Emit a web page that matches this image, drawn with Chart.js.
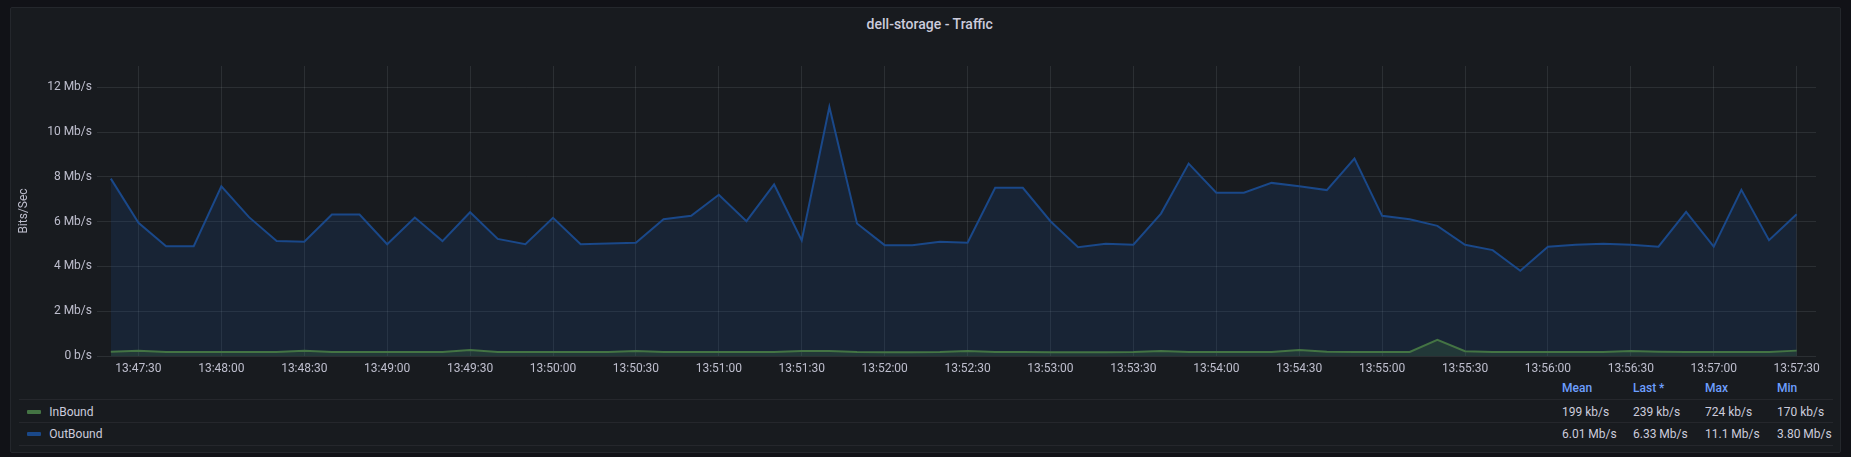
<!DOCTYPE html>
<html>
<head>
<meta charset="utf-8">
<title>dell-storage - Traffic</title>
<script src="https://cdn.jsdelivr.net/npm/chart.js@4.4.1/dist/chart.umd.min.js"></script>
<style>
  html, body { margin: 0; padding: 0; width: 1851px; height: 457px; overflow: hidden; background: #111217; font-family: Roboto, sans-serif; }
  .panel { position: absolute; left: 10px; top: 7px; width: 1829px; height: 444px; background: #181b1f; border: 1px solid #24272c; border-radius: 2px; }
  .title { position: absolute; left: 779.7px; width: 300px; top: 16px; line-height: 16px; text-align: center; font-size: 14px; font-weight: 500; color: #ccccdc; }
  .sep { position: absolute; left: 19px; width: 1814px; height: 1px; background: #25272c; }
  .cell { position: absolute; font-size: 12px; line-height: 16px; color: #ccccdc; white-space: nowrap; }
  .head { color: #6e9fff; font-weight: 500; }
  .swatch { position: absolute; width: 14px; height: 4px; border-radius: 1px; }
  #traffic { position: absolute; left: 0; top: 0; }
</style>
</head>
<body>
<div class="panel"></div>
<div class="title">dell-storage - Traffic</div>
<div id="legend"></div>
<canvas id="traffic" width="1851" height="457"></canvas>
<script>
// Sample times (every 10s)
const times = [
  '13:47:20', '13:47:30', '13:47:40', '13:47:50', '13:48:00', '13:48:10', '13:48:20', '13:48:30', '13:48:40', '13:48:50',
  '13:49:00', '13:49:10', '13:49:20', '13:49:30', '13:49:40', '13:49:50', '13:50:00', '13:50:10', '13:50:20', '13:50:30',
  '13:50:40', '13:50:50', '13:51:00', '13:51:10', '13:51:20', '13:51:30', '13:51:40', '13:51:50', '13:52:00', '13:52:10',
  '13:52:20', '13:52:30', '13:52:40', '13:52:50', '13:53:00', '13:53:10', '13:53:20', '13:53:30', '13:53:40', '13:53:50',
  '13:54:00', '13:54:10', '13:54:20', '13:54:30', '13:54:40', '13:54:50', '13:55:00', '13:55:10', '13:55:20', '13:55:30',
  '13:55:40', '13:55:50', '13:56:00', '13:56:10', '13:56:20', '13:56:30', '13:56:40', '13:56:50', '13:57:00', '13:57:10',
  '13:57:20', '13:57:30'
];

// Mb/s
const inBound = [
  0.19, 0.23, 0.18, 0.18, 0.18, 0.18, 0.18, 0.23, 0.18, 0.18,
  0.18, 0.18, 0.18, 0.27, 0.18, 0.18, 0.18, 0.18, 0.18, 0.22,
  0.18, 0.18, 0.18, 0.18, 0.18, 0.22, 0.22, 0.18, 0.17, 0.17,
  0.18, 0.22, 0.18, 0.18, 0.17, 0.17, 0.17, 0.18, 0.22, 0.18,
  0.18, 0.18, 0.18, 0.27, 0.19, 0.18, 0.18, 0.18, 0.72, 0.21,
  0.18, 0.18, 0.18, 0.18, 0.18, 0.22, 0.19, 0.18, 0.18, 0.18,
  0.18, 0.24
];

const outBound = [
  7.92, 5.95, 4.90, 4.90, 7.58, 6.20, 5.14, 5.10, 6.32, 6.32,
  4.99, 6.18, 5.13, 6.42, 5.23, 4.99, 6.17, 4.99, 5.02, 5.06,
  6.11, 6.26, 7.20, 6.02, 7.66, 5.16, 11.12, 5.92, 4.95, 4.95,
  5.10, 5.06, 7.51, 7.51, 6.02, 4.86, 5.01, 4.97, 6.36, 8.59,
  7.29, 7.29, 7.73, 7.58, 7.41, 8.82, 6.26, 6.11, 5.81, 4.97,
  4.73, 3.81, 4.88, 4.97, 5.01, 4.97, 4.88, 6.44, 4.88, 7.42,
  5.17, 6.33
];

const xTickLabels = [
  '13:47:30', '13:48:00', '13:48:30', '13:49:00', '13:49:30', '13:50:00', '13:50:30',
  '13:51:00', '13:51:30', '13:52:00', '13:52:30', '13:53:00', '13:53:30', '13:54:00',
  '13:54:30', '13:55:00', '13:55:30', '13:56:00', '13:56:30', '13:57:00', '13:57:30'
];
const yTickValues = [0, 2, 4, 6, 8, 10, 12];
const yTickLabels = ['0 b/s', '2 Mb/s', '4 Mb/s', '6 Mb/s', '8 Mb/s', '10 Mb/s', '12 Mb/s'];

const legendNames = ['InBound', 'OutBound'];
const legendColumns = ['Mean', 'Last *', 'Max', 'Min'];
const inBoundStats = ['199 kb/s', '239 kb/s', '724 kb/s', '170 kb/s'];
const outBoundStats = ['6.01 Mb/s', '6.33 Mb/s', '11.1 Mb/s', '3.80 Mb/s'];

const GREEN = '#447444';
const BLUE = '#1a4889';
const TEXT = 'rgba(204, 204, 220, 0.92)';
const GRID = 'rgba(240, 250, 255, 0.09)';

function toSec(t) {
  const p = t.split(':').map(Number);
  return p[0] * 3600 + p[1] * 60 + p[2];
}

// legend table (html)
const legend = document.getElementById('legend');
function add(cls, text, left, top, color) {
  const d = document.createElement('div');
  d.className = cls;
  d.style.left = left + 'px';
  d.style.top = top + 'px';
  if (text) d.textContent = text;
  if (color) d.style.background = color;
  legend.appendChild(d);
}
const colLeft = [1562, 1633, 1705, 1777];
const rowTop = [403.7, 426];
legendColumns.forEach((c, i) => add('cell head', c, colLeft[i], 380.3));
[399, 422, 445].forEach(y => add('sep', '', 19, y));
[[inBoundStats, GREEN], [outBoundStats, BLUE]].forEach(([stats, color], r) => {
  add('swatch', '', 27, rowTop[r] + 6, color);
  add('cell', legendNames[r], 49.3, rowTop[r]);
  stats.forEach((s, i) => add('cell', s, colLeft[i], rowTop[r]));
});

Chart.defaults.font.family = 'Roboto';
Chart.defaults.font.size = 12;
Chart.defaults.color = TEXT;

const ctx = document.getElementById('traffic').getContext('2d');
const trafficChart = new Chart(ctx, {
  type: 'line',
  data: {
    datasets: [
      {
        label: legendNames[0],
        data: times.map((t, i) => ({ x: toSec(t), y: inBound[i] })),
        borderColor: GREEN,
        backgroundColor: 'rgba(68, 116, 68, 0.25)',
        borderWidth: 2,
        pointRadius: 0,
        fill: 'origin',
        tension: 0
      },
      {
        label: legendNames[1],
        data: times.map((t, i) => ({ x: toSec(t), y: outBound[i] })),
        borderColor: BLUE,
        backgroundColor: 'rgba(27, 76, 147, 0.2)',
        borderWidth: 2,
        pointRadius: 0,
        fill: 'origin',
        tension: 0
      }
    ]
  },
  options: {
    responsive: false,
    animation: false,
    devicePixelRatio: 1,
    layout: { padding: { top: 66, right: 35, bottom: 77, left: 0 } },
    plugins: {
      legend: { display: false },
      tooltip: { enabled: false }
    },
    scales: {
      x: {
        type: 'linear',
        min: toSec('13:47:15'),
        max: toSec('13:57:37'),
        afterBuildTicks: axis => { axis.ticks = xTickLabels.map(l => ({ value: toSec(l) })); },
        afterFit: s => { s.height = 24; s.paddingLeft = 0; s.paddingRight = 0; },
        grid: { color: GRID, drawTicks: false },
        border: { display: false },
        ticks: {
          color: TEXT,
          padding: 6,
          maxRotation: 0,
          autoSkip: false,
          callback: (v, i) => xTickLabels[i]
        }
      },
      y: {
        min: 0,
        max: 12.95,
        afterBuildTicks: axis => { axis.ticks = yTickValues.map(v => ({ value: v })); },
        afterFit: s => { s.width = 97; s.paddingTop = 0; s.paddingBottom = 0; },
        grid: { color: GRID, drawTicks: false },
        border: { display: false },
        ticks: {
          color: TEXT,
          padding: 5,
          callback: (v, i) => yTickLabels[i]
        },
        title: {
          display: true,
          text: 'Bits/Sec',
          color: TEXT,
          font: { size: 12 },
          padding: { top: 16.5, bottom: 0 }
        }
      }
    }
  }
});
</script>
</body>
</html>
